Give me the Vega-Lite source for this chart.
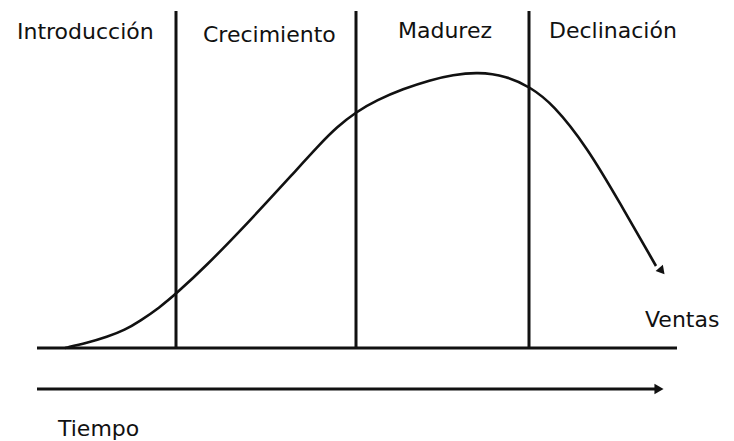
{
  "$schema": "https://vega.github.io/schema/vega-lite/v6.json",
  "width": 734,
  "height": 441,
  "autosize": {"type": "fit", "contains": "padding"},
  "padding": 0,
  "background": "white",
  "config": {"view": {"stroke": null}},
  "datasets": {
    "curve": [
      {"tiempo": 28, "ventas": 0},
      {"tiempo": 50, "ventas": 5},
      {"tiempo": 70, "ventas": 11},
      {"tiempo": 88, "ventas": 18},
      {"tiempo": 103, "ventas": 27},
      {"tiempo": 122, "ventas": 40},
      {"tiempo": 140, "ventas": 55},
      {"tiempo": 170, "ventas": 83},
      {"tiempo": 203, "ventas": 117},
      {"tiempo": 230, "ventas": 146},
      {"tiempo": 253, "ventas": 171},
      {"tiempo": 283, "ventas": 204},
      {"tiempo": 300, "ventas": 221},
      {"tiempo": 319, "ventas": 236},
      {"tiempo": 340, "ventas": 248},
      {"tiempo": 366, "ventas": 259},
      {"tiempo": 393, "ventas": 268},
      {"tiempo": 416, "ventas": 273},
      {"tiempo": 440, "ventas": 276},
      {"tiempo": 470, "ventas": 272},
      {"tiempo": 493, "ventas": 261},
      {"tiempo": 516, "ventas": 244},
      {"tiempo": 550, "ventas": 201},
      {"tiempo": 583, "ventas": 145},
      {"tiempo": 619, "ventas": 82}
    ],
    "phases": [
      {"t": 139, "bottom": 0, "top": 337},
      {"t": 319, "bottom": 0, "top": 337},
      {"t": 492, "bottom": 0, "top": 337}
    ],
    "hlines": [
      {"start": 0, "end": 640, "level": 0},
      {"start": 0, "end": 620, "level": -41}
    ],
    "heads": [
      {"t": 624, "v": 78, "kind": "curve"},
      {"t": 622, "v": -41, "kind": "time"}
    ],
    "labels": [
      {"text": "Introducción", "t": -20, "v": 309},
      {"text": "Crecimiento", "t": 166, "v": 306},
      {"text": "Madurez", "t": 361, "v": 310},
      {"text": "Declinación", "t": 512, "v": 310},
      {"text": "Ventas", "t": 608, "v": 21},
      {"text": "Tiempo", "t": 21, "v": -88}
    ]
  },
  "layer": [
    {
      "data": {"name": "hlines"},
      "mark": {"type": "rule", "color": "#111", "strokeWidth": 3},
      "encoding": {
        "x": {"field": "start", "type": "quantitative", "scale": {"domain": [-37, 697], "nice": false, "zero": false}, "axis": null},
        "x2": {"field": "end"},
        "y": {"field": "level", "type": "quantitative", "scale": {"domain": [-93, 348], "nice": false, "zero": false}, "axis": null}
      }
    },
    {
      "data": {"name": "phases"},
      "mark": {"type": "rule", "color": "#111", "strokeWidth": 3},
      "encoding": {
        "x": {"field": "t", "type": "quantitative"},
        "y": {"field": "bottom", "type": "quantitative"},
        "y2": {"field": "top"}
      }
    },
    {
      "data": {"name": "curve"},
      "mark": {"type": "line", "color": "#111", "strokeWidth": 2.6, "interpolate": "basis"},
      "encoding": {
        "x": {"field": "tiempo", "type": "quantitative"},
        "y": {"field": "ventas", "type": "quantitative"}
      }
    },
    {
      "data": {"name": "heads"},
      "transform": [{"filter": "datum.kind === 'curve'"}],
      "mark": {"type": "point", "shape": "triangle", "angle": 140, "filled": true, "color": "#111", "opacity": 1, "size": 90},
      "encoding": {
        "x": {"field": "t", "type": "quantitative"},
        "y": {"field": "v", "type": "quantitative"}
      }
    },
    {
      "data": {"name": "heads"},
      "transform": [{"filter": "datum.kind === 'time'"}],
      "mark": {"type": "point", "shape": "triangle-right", "filled": true, "color": "#111", "opacity": 1, "size": 110},
      "encoding": {
        "x": {"field": "t", "type": "quantitative"},
        "y": {"field": "v", "type": "quantitative"}
      }
    },
    {
      "data": {"name": "labels"},
      "mark": {"type": "text", "align": "left", "baseline": "alphabetic", "font": "DejaVu Sans", "fontSize": 22, "color": "#111"},
      "encoding": {
        "x": {"field": "t", "type": "quantitative"},
        "y": {"field": "v", "type": "quantitative"},
        "text": {"field": "text"}
      }
    }
  ]
}
